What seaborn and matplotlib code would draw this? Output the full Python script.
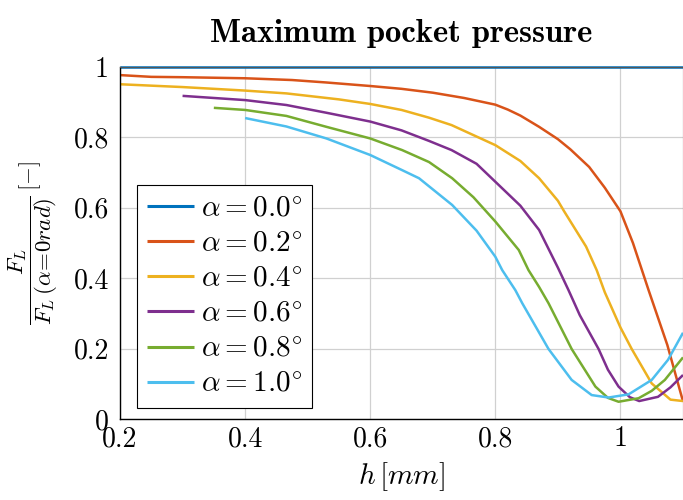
import pandas as pd
import seaborn as sns
import matplotlib
matplotlib.use("Agg")
import matplotlib.pyplot as plt
from matplotlib.ticker import FuncFormatter

# values
h_00 = [0.2, 0.4, 0.6, 0.8, 1.0, 1.1]
f_00 = [1.0, 1.0, 1.0, 1.0, 1.0, 1.0]

h_02 = [0.2, 0.25, 0.3, 0.4, 0.475, 0.53, 0.6, 0.65, 0.7, 0.75, 0.8, 0.82, 0.84, 0.87, 0.9, 0.92,
        0.95, 0.975, 1.0, 1.02, 1.045, 1.075, 1.1]
f_02 = [0.977, 0.972, 0.971, 0.968, 0.963, 0.956, 0.946, 0.938, 0.927, 0.912, 0.893, 0.879, 0.862, 0.830, 0.795, 0.766,
        0.716, 0.657, 0.590, 0.500, 0.366, 0.21, 0.05]

h_04 = [0.2, 0.3, 0.4, 0.466, 0.55, 0.6, 0.65, 0.694, 0.73, 0.8, 0.84, 0.87, 0.9, 0.91, 0.945,
        0.962, 0.975, 1.0, 1.018, 1.05, 1.08, 1.1]
f_04 = [0.951, 0.943, 0.933, 0.925, 0.908, 0.895, 0.878, 0.856, 0.835, 0.778, 0.733, 0.684, 0.620, 0.59, 0.49,
        0.423, 0.36, 0.26, 0.199, 0.101, 0.055, 0.051]

h_06 = [0.3, 0.4, 0.466, 0.53, 0.6, 0.65, 0.694, 0.73, 0.77, 0.8, 0.84, 0.87, 0.9, 0.917, 0.935,
        0.965, 0.98, 0.997, 1.015, 1.03, 1.06, 1.08, 1.1]
f_06 = [0.918, 0.906, 0.892, 0.870, 0.845, 0.820, 0.790, 0.764, 0.725, 0.674, 0.606, 0.537, 0.43, 0.366, 0.295,
        0.199, 0.14, 0.092, 0.062, 0.051, 0.063, 0.09, 0.125]

h_08 = [0.35, 0.4, 0.466, 0.53, 0.6, 0.651, 0.694, 0.731, 0.765, 0.8, 0.8375, 0.853, 0.87, 0.885, 0.922,
        0.96, 0.98, 0.997, 1.029, 1.05, 1.071, 1.1]
f_08 = [0.884, 0.878, 0.861, 0.830, 0.797, 0.764, 0.730, 0.684, 0.63, 0.561, 0.48, 0.423, 0.375, 0.329, 0.199,
        0.092, 0.06, 0.049, 0.059, 0.08, 0.111, 0.175]

h_10 = [0.4, 0.466, 0.53, 0.6, 0.651, 0.678, 0.731, 0.77, 0.8, 0.811, 0.832, 0.843, 0.885, 0.922, 0.954,
        0.981, 1.013, 1.05, 1.076, 1.1]
f_10 = [0.855, 0.831, 0.797, 0.750, 0.707, 0.684, 0.608, 0.535, 0.461, 0.423, 0.366, 0.329, 0.199, 0.111, 0.068,
        0.061, 0.070, 0.111, 0.168, 0.245]

series = [
    (r"$\alpha = 0.0^{\circ}$", h_00, f_00, "#0072BD"),
    (r"$\alpha = 0.2^{\circ}$", h_02, f_02, "#D95319"),
    (r"$\alpha = 0.4^{\circ}$", h_04, f_04, "#EDB120"),
    (r"$\alpha = 0.6^{\circ}$", h_06, f_06, "#7E2F8E"),
    (r"$\alpha = 0.8^{\circ}$", h_08, f_08, "#77AC30"),
    (r"$\alpha = 1.0^{\circ}$", h_10, f_10, "#4DBEEE"),
]

sns.set_style("whitegrid")
plt.rcParams["font.family"] = "serif"
plt.rcParams["font.serif"] = ["cmr10", "DejaVu Serif"]
plt.rcParams["mathtext.fontset"] = "cm"
plt.rcParams["axes.formatter.use_mathtext"] = True
plt.rcParams["text.color"] = "black"
plt.rcParams["axes.labelcolor"] = "black"
plt.rcParams["xtick.labelcolor"] = "black"
plt.rcParams["ytick.labelcolor"] = "black"

fig = plt.figure(figsize=(6.83, 5.0), dpi=100)
ax = fig.add_axes([0.1757, 0.162, 0.8243, 0.704])

for label, h, f, col in series:
    df = pd.DataFrame({"h": h, "F": f})
    sns.lineplot(data=df, x="h", y="F", color=col, label=label, ax=ax,
                 linewidth=1.8, sort=False, estimator=None,
                 solid_joinstyle="round", solid_capstyle="butt")
# the constant line sits on the upper border
ax.lines[0].set_clip_on(False)

ax.set_xlim(0.2, 1.1)
ax.set_ylim(0, 1)
ax.set_xticks([0.2, 0.4, 0.6, 0.8, 1.0])
ax.set_yticks([0, 0.2, 0.4, 0.6, 0.8, 1.0])
fmt = FuncFormatter(lambda v, p: "%g" % v)
ax.xaxis.set_major_formatter(fmt)
ax.yaxis.set_major_formatter(fmt)
ax.tick_params(direction="in", length=7, width=0.8, color="#555555", labelsize=20)
ax.tick_params(axis="x", pad=5)
ax.tick_params(axis="y", pad=8)
ax.grid(True, color="#d0d0d0", linewidth=0.9)

for s in ["left", "bottom"]:
    ax.spines[s].set_color("black")
    ax.spines[s].set_linewidth(1.0)
for s in ["top", "right"]:
    ax.spines[s].set_color("#555555")
    ax.spines[s].set_linewidth(0.8)

ax.set_xlabel(r"$h\,[mm]$", fontsize=21, labelpad=6)
ax.set_ylabel(r"$\dfrac{F_L}{F_L\,(\alpha\!=\!0rad)}\,[-]$", fontsize=16.5, labelpad=10)
ax.set_title("Maximum pocket pressure", fontsize=23.5, fontname="cmb10", pad=18)

leg = ax.legend(loc="lower left", bbox_to_anchor=(0.03, 0.031), borderaxespad=0,
                fontsize=21, frameon=True, fancybox=False, edgecolor="black",
                framealpha=1, handlelength=1.6, handletextpad=0.25,
                labelspacing=0.3, borderpad=0.35)
leg.get_frame().set_linewidth(0.8)
for ln in leg.get_lines():
    ln.set_linewidth(2.2)

fig.savefig("out.png", dpi=100)
